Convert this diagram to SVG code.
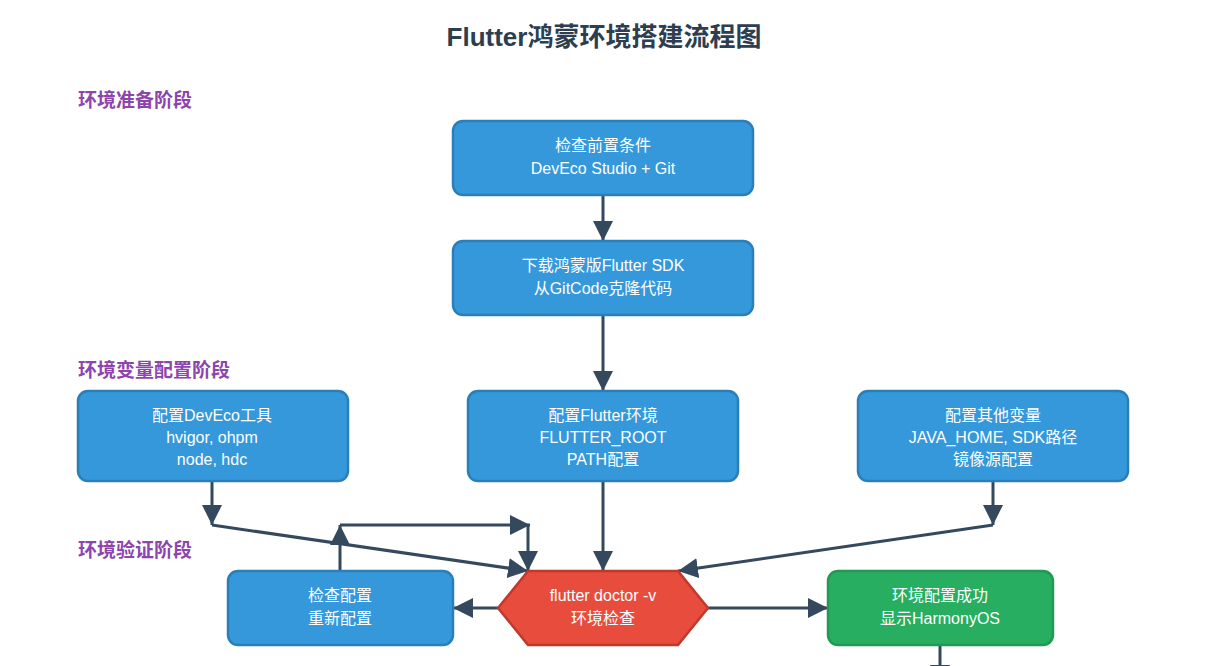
<svg xmlns="http://www.w3.org/2000/svg" width="1209" height="666" viewBox="0 0 1209 666">
<style>
.t{font-family:"Liberation Sans","Noto Sans CJK SC",sans-serif;font-size:16px;fill:#fff;text-anchor:middle}
.ph{font-family:"Liberation Sans","Noto Sans CJK SC",sans-serif;font-size:19px;font-weight:bold;fill:#8e44ad}
.b{fill:#3498db;stroke:#2a7fb8;stroke-width:2.5}
.c{fill:none;stroke:#34495e;stroke-width:3}
</style>
<defs><marker id="a" markerUnits="userSpaceOnUse" markerWidth="22" markerHeight="22" refX="20" refY="10" orient="auto"><path d="M0,0L20,10L0,20z" fill="#34495e"/></marker></defs>
<rect width="1209" height="666" fill="#fff"/>
<text x="604" y="46" style="font-family:'Liberation Sans','Noto Sans CJK SC',sans-serif;font-size:26px;font-weight:bold;fill:#2c3e50;text-anchor:middle">Flutter鸿蒙环境搭建流程图</text>
<text class="ph" x="78" y="107">环境准备阶段</text>
<text class="ph" x="78" y="377">环境变量配置阶段</text>
<text class="ph" x="78" y="557">环境验证阶段</text>
<g id="connectors">
<path class="c" d="M603,195V241" marker-end="url(#a)"/>
<path class="c" d="M603,315V391" marker-end="url(#a)"/>
<path class="c" d="M212,481V525" marker-end="url(#a)"/>
<path class="c" d="M212,525L528,571" marker-end="url(#a)"/>
<path class="c" d="M340,571V525" marker-end="url(#a)"/>
<path class="c" d="M340,525H530" marker-end="url(#a)"/>
<path class="c" d="M528,525V571" marker-end="url(#a)"/>
<path class="c" d="M603,481V571" marker-end="url(#a)"/>
<path class="c" d="M993,481V525" marker-end="url(#a)"/>
<path class="c" d="M993,525L678,571" marker-end="url(#a)"/>
<path class="c" d="M498,608H453" marker-end="url(#a)"/>
<path class="c" d="M708,608H828" marker-end="url(#a)"/>
<path class="c" d="M940,645V685" marker-end="url(#a)"/>
</g>
<g id="n1"><rect class="b" x="453" y="121" width="300" height="74" rx="10"/><text class="t" x="603" y="151">检查前置条件</text><text class="t" x="603" y="174">DevEco Studio + Git</text></g>
<g id="n2"><rect class="b" x="453" y="241" width="300" height="74" rx="10"/><text class="t" x="603" y="271">下载鸿蒙版Flutter SDK</text><text class="t" x="603" y="294">从GitCode克隆代码</text></g>
<g id="n3"><rect class="b" x="78" y="391" width="270" height="90" rx="10"/><text class="t" x="212" y="421">配置DevEco工具</text><text class="t" x="212" y="443">hvigor, ohpm</text><text class="t" x="212" y="465">node, hdc</text></g>
<g id="n4"><rect class="b" x="468" y="391" width="270" height="90" rx="10"/><text class="t" x="603" y="421">配置Flutter环境</text><text class="t" x="603" y="443">FLUTTER_ROOT</text><text class="t" x="603" y="465">PATH配置</text></g>
<g id="n5"><rect class="b" x="858" y="391" width="270" height="90" rx="10"/><text class="t" x="993" y="421">配置其他变量</text><text class="t" x="993" y="443">JAVA_HOME, SDK路径</text><text class="t" x="993" y="465">镜像源配置</text></g>
<g id="n6"><rect class="b" x="228" y="571" width="225" height="74" rx="10"/><text class="t" x="340" y="601">检查配置</text><text class="t" x="340" y="624">重新配置</text></g>
<g id="n7"><polygon points="498,608 528,571 678,571 708,608 678,645 528,645" fill="#e74c3c" stroke="#c0392b" stroke-width="2.5"/><text class="t" x="603" y="601">flutter doctor -v</text><text class="t" x="603" y="624">环境检查</text></g>
<g id="n8"><rect x="828" y="571" width="225" height="74" rx="10" fill="#27ae60" stroke="#229954" stroke-width="2.5"/><text class="t" x="940" y="601">环境配置成功</text><text class="t" x="940" y="624">显示HarmonyOS</text></g>
</svg>
